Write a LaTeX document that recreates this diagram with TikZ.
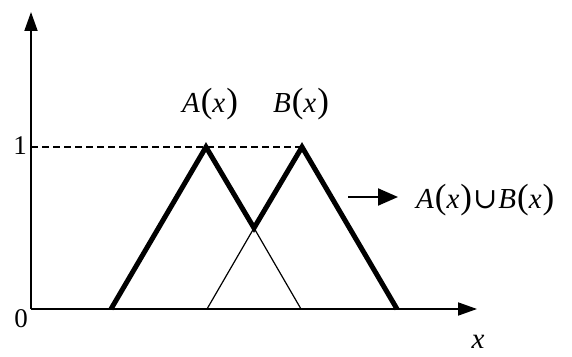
\documentclass[tikz,border=0pt]{standalone}
\usepackage{fontspec}
\setmainfont{Liberation Serif}
\newfontfamily\symfont{DejaVu Serif}
\usetikzlibrary{arrows.meta}
\newcommand\myparen[1]{{\fontsize{35}{35}\selectfont #1}}
\newcommand\myfn[1]{{\itshape #1}\kern1pt\myparen{(}{\itshape x}\kern1pt\myparen{)}}
\begin{document}
\begin{tikzpicture}[x=1pt,y=1pt,
  axis/.style={line width=1.8pt,-{Triangle[length=19pt,width=13pt]}},
  thickline/.style={line width=5pt,line join=miter},
  thinline/.style={line width=1.2pt},
  dashline/.style={line width=1.5pt,dash pattern=on 7pt off 4pt},
  num/.style={inner sep=0pt,font=\fontsize{27}{30}\selectfont},
  lbl/.style={inner sep=0pt,font=\fontsize{29}{33}\selectfont}]
\useasboundingbox (0,0) rectangle (572,356);
\coordinate (O) at (31,47);
\coordinate (ytop) at (31,344);
\coordinate (xend) at (477,47);
\coordinate (y1) at (31,209);
\coordinate (a0) at (111,47);
\coordinate (ap) at (206,209);
\coordinate (c) at (254,128);
\coordinate (bp) at (302,209);
\coordinate (b1) at (397,47);
\coordinate (t0) at (207,47);
\coordinate (t1) at (301,47);
\coordinate (l0) at (348,159);
\coordinate (l1) at (398,159);
% axes
\draw[axis] (O) -- (ytop);
\draw[axis] (O) -- (xend);
% dashed level 1
\draw[dashline] (y1) -- (bp);
% thin parts
\draw[thinline] (t0) -- (c) -- (t1);
% union
\draw[thickline] (a0) -- (ap) -- (c) -- (bp) -- (b1);
% legend arrow
\draw[line width=2pt,-{Triangle[length=20pt,width=17pt]}] (l0) -- (l1);
% labels
\node[num] (zero) at (21,37) {0};
\node[num] (one) at (20,210) {1};
\node[lbl] (xl) at (478,14) {\itshape x};
\node[lbl] (la) at (210,252) {\myfn{A}};
\node[lbl] (lb) at (301,252) {\myfn{B}};
\node[lbl,anchor=west] (lu) at (416,156) {\myfn{A}\kern1pt{\symfont ∪}\kern1pt\myfn{B}};
\end{tikzpicture}
\end{document}
